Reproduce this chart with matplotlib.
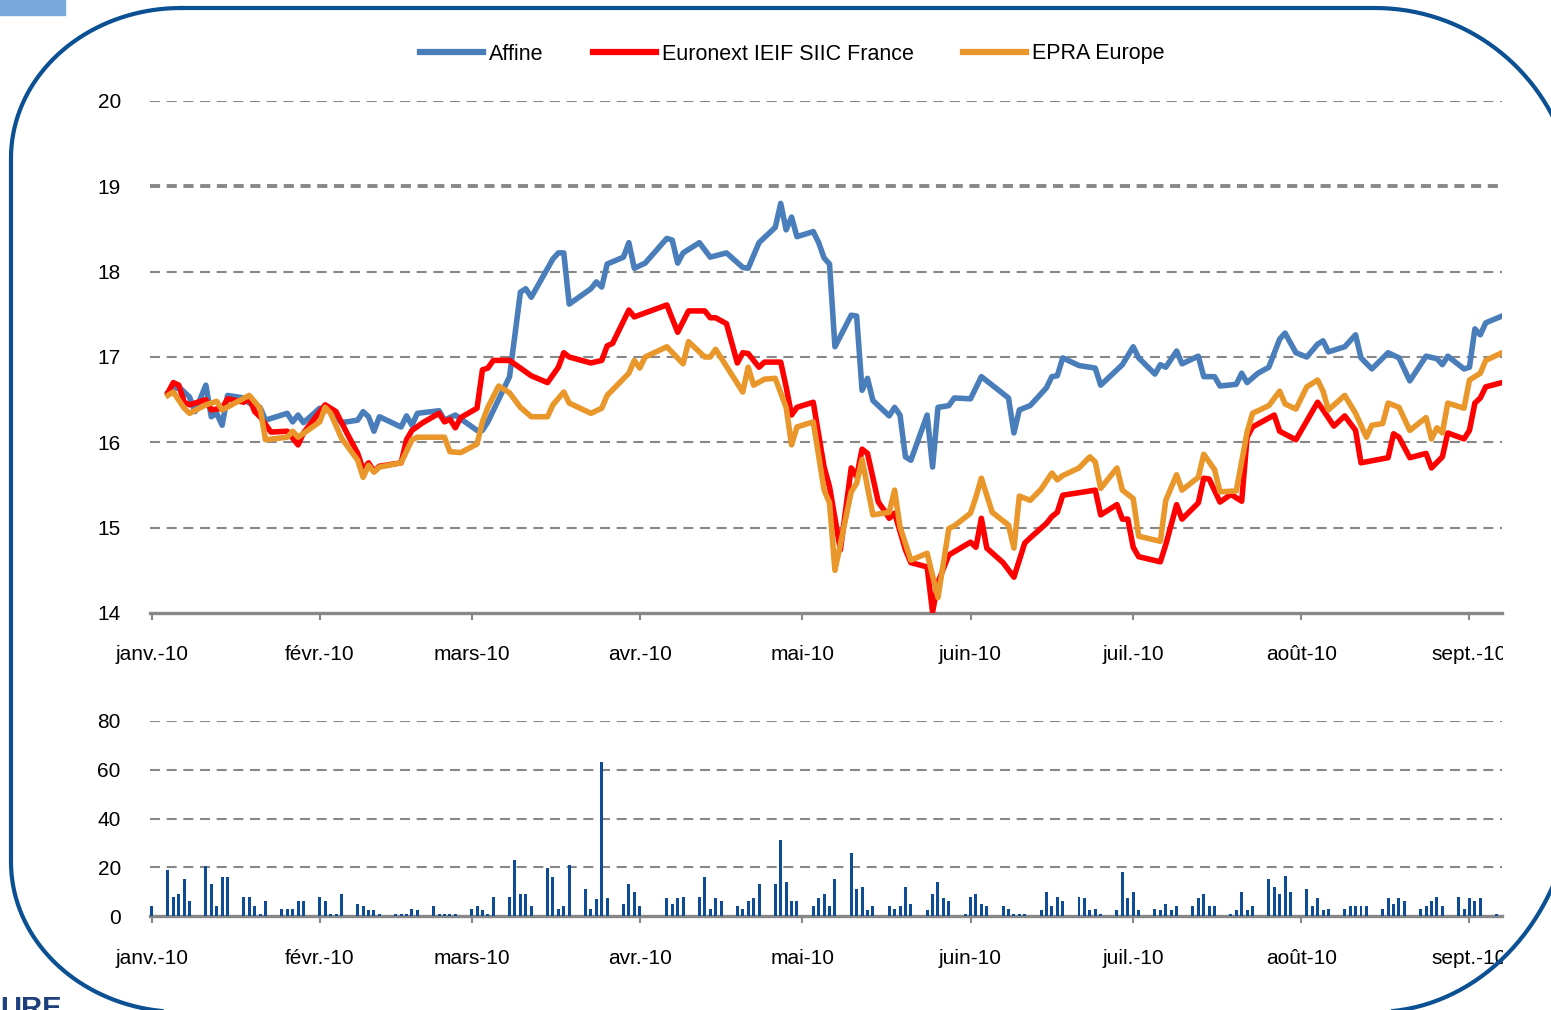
import numpy as np
import matplotlib
matplotlib.use('Agg')
import matplotlib.pyplot as plt
from matplotlib.lines import Line2D
from matplotlib.patches import Rectangle
from matplotlib.transforms import Bbox, IdentityTransform

plt.rcParams['font.family'] = ['Liberation Sans', 'DejaVu Sans']

# x positions are days since 2010-01-01
MONTH_DAYS = [0, 31, 59, 90, 120, 151, 181, 212, 243]
MONTH_LABELS = ['janv.-10', 'févr.-10', 'mars-10', 'avr.-10', 'mai-10',
                'juin-10', 'juil.-10', 'août-10', 'sept.-10']
LAST_DAY = 249

affine_days = [3, 5, 7, 8, 10, 11, 12, 13, 14, 17,
               18, 20, 21, 25, 26, 27, 28, 31, 33, 35,
               38, 39, 40, 41, 42, 46, 47, 48, 49, 53,
               54, 56, 60, 61, 62, 66, 68, 69, 70, 74,
               75, 76, 77, 81, 82, 83, 84, 87, 88, 89,
               91, 95, 96, 97, 98, 101, 103, 106, 109, 110,
               112, 115, 116, 117, 118, 119, 122, 123, 124, 125,
               126, 129, 130, 131, 132, 133, 136, 137, 138, 139,
               140, 143, 144, 145, 147, 148, 151, 153, 158, 159,
               160, 162, 165, 166, 167, 168, 171, 174, 175, 179,
               181, 182, 185, 186, 187, 189, 190, 193, 194, 196,
               197, 200, 201, 202, 204, 206, 208, 209, 211, 213,
               215, 216, 217, 220, 222, 223, 225, 228, 230, 232,
               235, 237, 238, 239, 242, 243, 244, 245, 246, 249]
affine_vals = [16.58, 16.65, 16.53, 16.36, 16.67, 16.30, 16.34, 16.20, 16.55, 16.52,
               16.46, 16.41, 16.26, 16.34, 16.24, 16.32, 16.23, 16.40, 16.36, 16.23,
               16.26, 16.36, 16.30, 16.13, 16.30, 16.18, 16.31, 16.20, 16.34, 16.37,
               16.26, 16.32, 16.14, 16.14, 16.24, 16.77, 17.76, 17.80, 17.70, 18.15,
               18.22, 18.22, 17.62, 17.80, 17.88, 17.82, 18.09, 18.17, 18.34, 18.04,
               18.10, 18.39, 18.37, 18.10, 18.22, 18.34, 18.17, 18.22, 18.05, 18.04,
               18.34, 18.52, 18.80, 18.49, 18.64, 18.41, 18.47, 18.34, 18.16, 18.09,
               17.12, 17.49, 17.48, 16.61, 16.75, 16.49, 16.31, 16.41, 16.32, 15.83,
               15.79, 16.32, 15.71, 16.41, 16.43, 16.52, 16.51, 16.77, 16.52, 16.11,
               16.38, 16.43, 16.64, 16.77, 16.78, 16.99, 16.90, 16.87, 16.67, 16.91,
               17.12, 16.99, 16.80, 16.91, 16.88, 17.07, 16.92, 17.01, 16.77, 16.77,
               16.66, 16.68, 16.81, 16.70, 16.81, 16.88, 17.21, 17.28, 17.05, 17.00,
               17.15, 17.19, 17.06, 17.12, 17.26, 16.99, 16.86, 17.05, 16.99, 16.72,
               17.01, 16.98, 16.91, 17.01, 16.86, 16.88, 17.33, 17.26, 17.40, 17.48]

siic_days = [3, 4, 5, 6, 7, 10, 11, 13, 14, 17,
             18, 19, 20, 22, 25, 27, 28, 32, 34, 36,
             38, 39, 40, 41, 42, 46, 47, 48, 50, 53,
             54, 55, 56, 57, 60, 61, 62, 63, 66, 68,
             70, 73, 75, 76, 77, 81, 83, 84, 85, 88,
             89, 95, 97, 99, 102, 103, 104, 106, 108, 109,
             110, 112, 113, 116, 117, 118, 119, 122, 124, 125,
             127, 129, 130, 131, 132, 134, 135, 136, 137, 139,
             140, 143, 144, 145, 147, 151, 152, 153, 154, 157,
             159, 160, 161, 162, 165, 166, 167, 168, 173, 174,
             175, 178, 179, 180, 181, 182, 186, 187, 189, 190,
             193, 194, 195, 197, 199, 201, 202, 203, 207, 208,
             211, 215, 216, 218, 220, 222, 223, 228, 229, 230,
             232, 235, 236, 238, 239, 242, 243, 244, 245, 246,
             249]
siic_vals = [16.58, 16.70, 16.67, 16.47, 16.44, 16.50, 16.38, 16.40, 16.51, 16.47,
             16.52, 16.36, 16.30, 16.12, 16.13, 15.97, 16.11, 16.44, 16.36, 16.11,
             15.87, 15.68, 15.76, 15.66, 15.72, 15.76, 16.03, 16.14, 16.23, 16.34,
             16.24, 16.27, 16.17, 16.29, 16.40, 16.85, 16.87, 16.96, 16.96, 16.87,
             16.78, 16.70, 16.88, 17.05, 17.00, 16.93, 16.96, 17.13, 17.16, 17.55,
             17.47, 17.61, 17.29, 17.54, 17.54, 17.46, 17.46, 17.39, 16.93, 17.05,
             17.04, 16.88, 16.94, 16.94, 16.65, 16.32, 16.41, 16.47, 15.71, 15.48,
             14.74, 15.70, 15.60, 15.92, 15.87, 15.30, 15.21, 15.11, 15.17, 14.74,
             14.59, 14.54, 14.01, 14.36, 14.68, 14.83, 14.77, 15.11, 14.76, 14.59,
             14.42, 14.62, 14.82, 14.88, 15.05, 15.13, 15.18, 15.38, 15.43, 15.44,
             15.15, 15.27, 15.10, 15.10, 14.77, 14.66, 14.60, 14.80, 15.27, 15.10,
             15.29, 15.58, 15.57, 15.30, 15.39, 15.31, 16.06, 16.18, 16.32, 16.13,
             16.03, 16.47, 16.38, 16.19, 16.31, 16.14, 15.76, 15.82, 16.10, 16.06,
             15.82, 15.87, 15.70, 15.83, 16.11, 16.04, 16.14, 16.46, 16.52, 16.65,
             16.70]

epra_days = [3, 4, 6, 7, 10, 12, 13, 18, 20, 21,
             25, 26, 27, 31, 32, 33, 35, 38, 39, 40,
             41, 42, 46, 48, 49, 54, 55, 57, 60, 61,
             62, 64, 66, 68, 70, 73, 74, 76, 77, 81,
             83, 84, 88, 89, 90, 91, 95, 98, 99, 102,
             103, 104, 109, 110, 111, 113, 115, 117, 118, 119,
             122, 124, 125, 126, 129, 130, 131, 133, 136, 137,
             138, 140, 143, 145, 147, 148, 151, 152, 153, 155,
             158, 159, 160, 162, 164, 166, 167, 168, 171, 173,
             174, 175, 178, 179, 181, 182, 186, 187, 189, 190,
             193, 194, 196, 197, 200, 202, 203, 206, 208, 209,
             211, 213, 215, 216, 217, 220, 222, 224, 225, 227,
             228, 230, 232, 235, 236, 237, 238, 239, 242, 243,
             245, 246, 249]
epra_vals = [16.55, 16.59, 16.40, 16.34, 16.44, 16.48, 16.38, 16.55, 16.40, 16.03,
             16.06, 16.13, 16.06, 16.24, 16.41, 16.34, 16.05, 15.79, 15.59, 15.73,
             15.65, 15.71, 15.76, 16.03, 16.06, 16.06, 15.89, 15.88, 15.98, 16.24,
             16.41, 16.66, 16.58, 16.41, 16.30, 16.30, 16.44, 16.59, 16.46, 16.34,
             16.40, 16.55, 16.81, 16.96, 16.87, 17.00, 17.12, 16.92, 17.18, 17.00,
             17.00, 17.09, 16.59, 16.88, 16.67, 16.74, 16.75, 16.41, 15.97, 16.18,
             16.24, 15.44, 15.29, 14.50, 15.42, 15.52, 15.80, 15.15, 15.18, 15.44,
             15.01, 14.62, 14.70, 14.18, 14.99, 15.02, 15.17, 15.36, 15.58, 15.18,
             15.03, 14.76, 15.37, 15.32, 15.45, 15.64, 15.56, 15.61, 15.70, 15.83,
             15.77, 15.46, 15.70, 15.44, 15.34, 14.90, 14.84, 15.32, 15.62, 15.44,
             15.59, 15.86, 15.68, 15.42, 15.43, 16.12, 16.34, 16.43, 16.60, 16.45,
             16.39, 16.65, 16.73, 16.60, 16.38, 16.55, 16.34, 16.06, 16.20, 16.22,
             16.46, 16.41, 16.14, 16.29, 16.04, 16.17, 16.11, 16.46, 16.40, 16.73,
             16.81, 16.96, 17.05]

vol_days = [0, 3, 4, 5, 6, 7, 10, 11, 12, 13, 14, 17, 18, 19, 20, 21,
            24, 25, 26, 27, 28, 31, 32, 33, 34, 35, 38, 39, 40, 41, 42,
            45, 46, 47, 48, 49, 52, 53, 54, 55, 56, 59, 60, 61, 62, 63,
            66, 67, 68, 69, 70, 73, 74, 75, 76, 77, 80, 81, 82, 83, 84,
            87, 88, 89, 90, 95, 96, 97, 98, 101, 102, 103, 104, 105,
            108, 109, 110, 111, 112, 115, 116, 117, 118, 119,
            122, 123, 124, 125, 126, 129, 130, 131, 132, 133,
            136, 137, 138, 139, 140, 143, 144, 145, 146, 147,
            150, 151, 152, 153, 154, 157, 158, 159, 160, 161,
            164, 165, 166, 167, 168, 171, 172, 173, 174, 175,
            178, 179, 180, 181, 182, 185, 186, 187, 188, 189,
            192, 193, 194, 195, 196, 199, 200, 201, 202, 203,
            206, 207, 208, 209, 210, 213, 214, 215, 216, 217,
            220, 221, 222, 223, 224, 227, 228, 229, 230, 231,
            234, 235, 236, 237, 238, 241, 242, 243, 244, 245, 248]
vol_vals = [4, 19, 8, 9, 15, 6, 20.5, 13, 4, 16, 16, 8, 8, 4, 1, 6,
            3, 3, 3, 6, 6, 8, 6, 1, 1, 9, 5, 4, 2.5, 2.5, 1,
            1, 1, 1, 3, 2.5, 4, 1, 1, 1, 1, 3, 4, 2.5, 1, 8,
            8, 23, 9, 9, 4, 19.5, 16, 3, 4, 21, 11, 3, 7, 63, 7.5,
            5, 13, 10, 4, 7.5, 5, 7.5, 8, 8, 16, 3, 7.5, 6,
            4, 3, 6, 7.5, 13, 13, 31, 14, 6, 6,
            4, 7.5, 9, 4, 15, 26, 11, 12, 2.5, 4,
            4, 3, 4, 12, 5, 2.5, 9, 14, 7.5, 6,
            1, 8, 9, 5, 4, 4, 3, 1, 1, 1,
            2.5, 10, 4, 8, 6, 8, 7.5, 2.5, 3, 1,
            2.5, 18, 7.5, 10, 2.5, 3, 2.5, 5, 2.5, 4,
            4, 7.5, 9, 4, 4, 1, 2.5, 10, 2.5, 4,
            15, 12, 9, 16.5, 10, 11, 4, 7.5, 2.5, 3,
            3, 4, 4, 4, 4, 3, 7.5, 5, 7.5, 6,
            3, 4, 6, 8, 4, 8, 3, 7.5, 6, 7.5, 1]

W, H = 1551, 1010
GRID = '#888888'
FS = 15

fig = plt.figure(figsize=(W / 100, H / 100), dpi=100)
fig.patch.set_facecolor('white')


def px_rect(x0, y0, x1, y1):
    return [x0 / W, 1 - y1 / H, (x1 - x0) / W, (y1 - y0) / H]


ax = fig.add_axes(px_rect(150, 101, 1502, 613))
axv = fig.add_axes(px_rect(150, 721, 1502, 916))


def style_axes(a, yticks, thick=(), xpad=18):
    a.set_xlim(-0.3, LAST_DAY)
    a.set_ylim(yticks[0], yticks[-1])
    for s in ['top', 'right', 'left']:
        a.spines[s].set_visible(False)
    a.spines['bottom'].set_color(GRID)
    a.spines['bottom'].set_linewidth(2.4)
    a.set_xticks(MONTH_DAYS)
    a.set_xticklabels(MONTH_LABELS, fontsize=FS)
    a.set_yticks(yticks)
    a.set_yticklabels([str(t) for t in yticks], fontsize=FS)
    a.tick_params(axis='x', color=GRID, length=5, width=1.5, pad=xpad)
    a.tick_params(axis='y', length=0, pad=21)
    for t in yticks[1:]:
        if t in thick:
            a.axhline(t, color=GRID, lw=2.8, dashes=(2.6, 1.7), zorder=1)
        else:
            a.axhline(t, color=GRID, lw=1.5, dashes=(4.8, 3.2), zorder=1)


style_axes(ax, [14, 15, 16, 17, 18, 19, 20], thick=(19,), xpad=18)
style_axes(axv, [0, 20, 40, 60, 80], xpad=19)

ax.plot(affine_days, affine_vals, color='#4A7EBB', lw=4.0,
        solid_joinstyle='round', zorder=3)
ax.plot(siic_days, siic_vals, color='#FF0000', lw=4.0,
        solid_joinstyle='round', zorder=4)
ax.plot(epra_days, epra_vals, color='#E9962A', lw=4.0,
        solid_joinstyle='round', zorder=5)

axv.bar(vol_days, vol_vals, width=0.55, color='#0F4C96', zorder=3)

handles = [Line2D([], [], color='#4A7EBB', lw=4.5),
           Line2D([], [], color='#FF0000', lw=4.5),
           Line2D([], [], color='#E9962A', lw=4.5)]
fig.legend(handles, ['Affine', 'Euronext IEIF SIIC France', 'EPRA Europe'],
           loc='center', bbox_to_anchor=(0.511, 1 - 54 / H), ncol=3,
           frameon=False, fontsize=FS + 0.5, handlelength=2.9,
           handletextpad=0.3, columnspacing=2.3)


# slide decorations: rounded frame, corner tab, logo fragment
def corner(cx, cy, rx, ry, t0, t1):
    t = np.radians(np.linspace(t0, t1, 40))
    return cx + rx * np.cos(t), cy + ry * np.sin(t)


L, R, T, B = 11, 1575, H - 8, H - 1012
parts = [corner(L + 170, T - 150, 170, 150, 90, 180),
         corner(L + 170, B + 150, 170, 150, 180, 270),
         corner(R - 200, B + 232, 200, 232, 270, 360),
         corner(R - 200, T - 200, 200, 200, 0, 90)]
fx = np.concatenate([p[0] for p in parts] + [[parts[0][0][0]]])
fy = np.concatenate([p[1] for p in parts] + [[parts[0][1][0]]])
fig.add_artist(Line2D(fx, fy, color='#0A5092', lw=3,
                      transform=IdentityTransform()))
fig.add_artist(Rectangle((0, H - 15), 65, 15, color='#76A9DA',
                         transform=IdentityTransform()))
fig.text(0, 15 / H, 'URE', fontsize=21, color='#1D3F7A', va='top',
         ha='left', fontweight='bold')

fig.canvas.draw()
clip = Bbox.from_extents(0, 0, 1503, H)
for a in (ax, axv):
    for lab in a.get_xticklabels():
        lab.set_clip_box(clip)
        lab.set_clip_on(True)

fig.savefig('out.png', dpi=100)
